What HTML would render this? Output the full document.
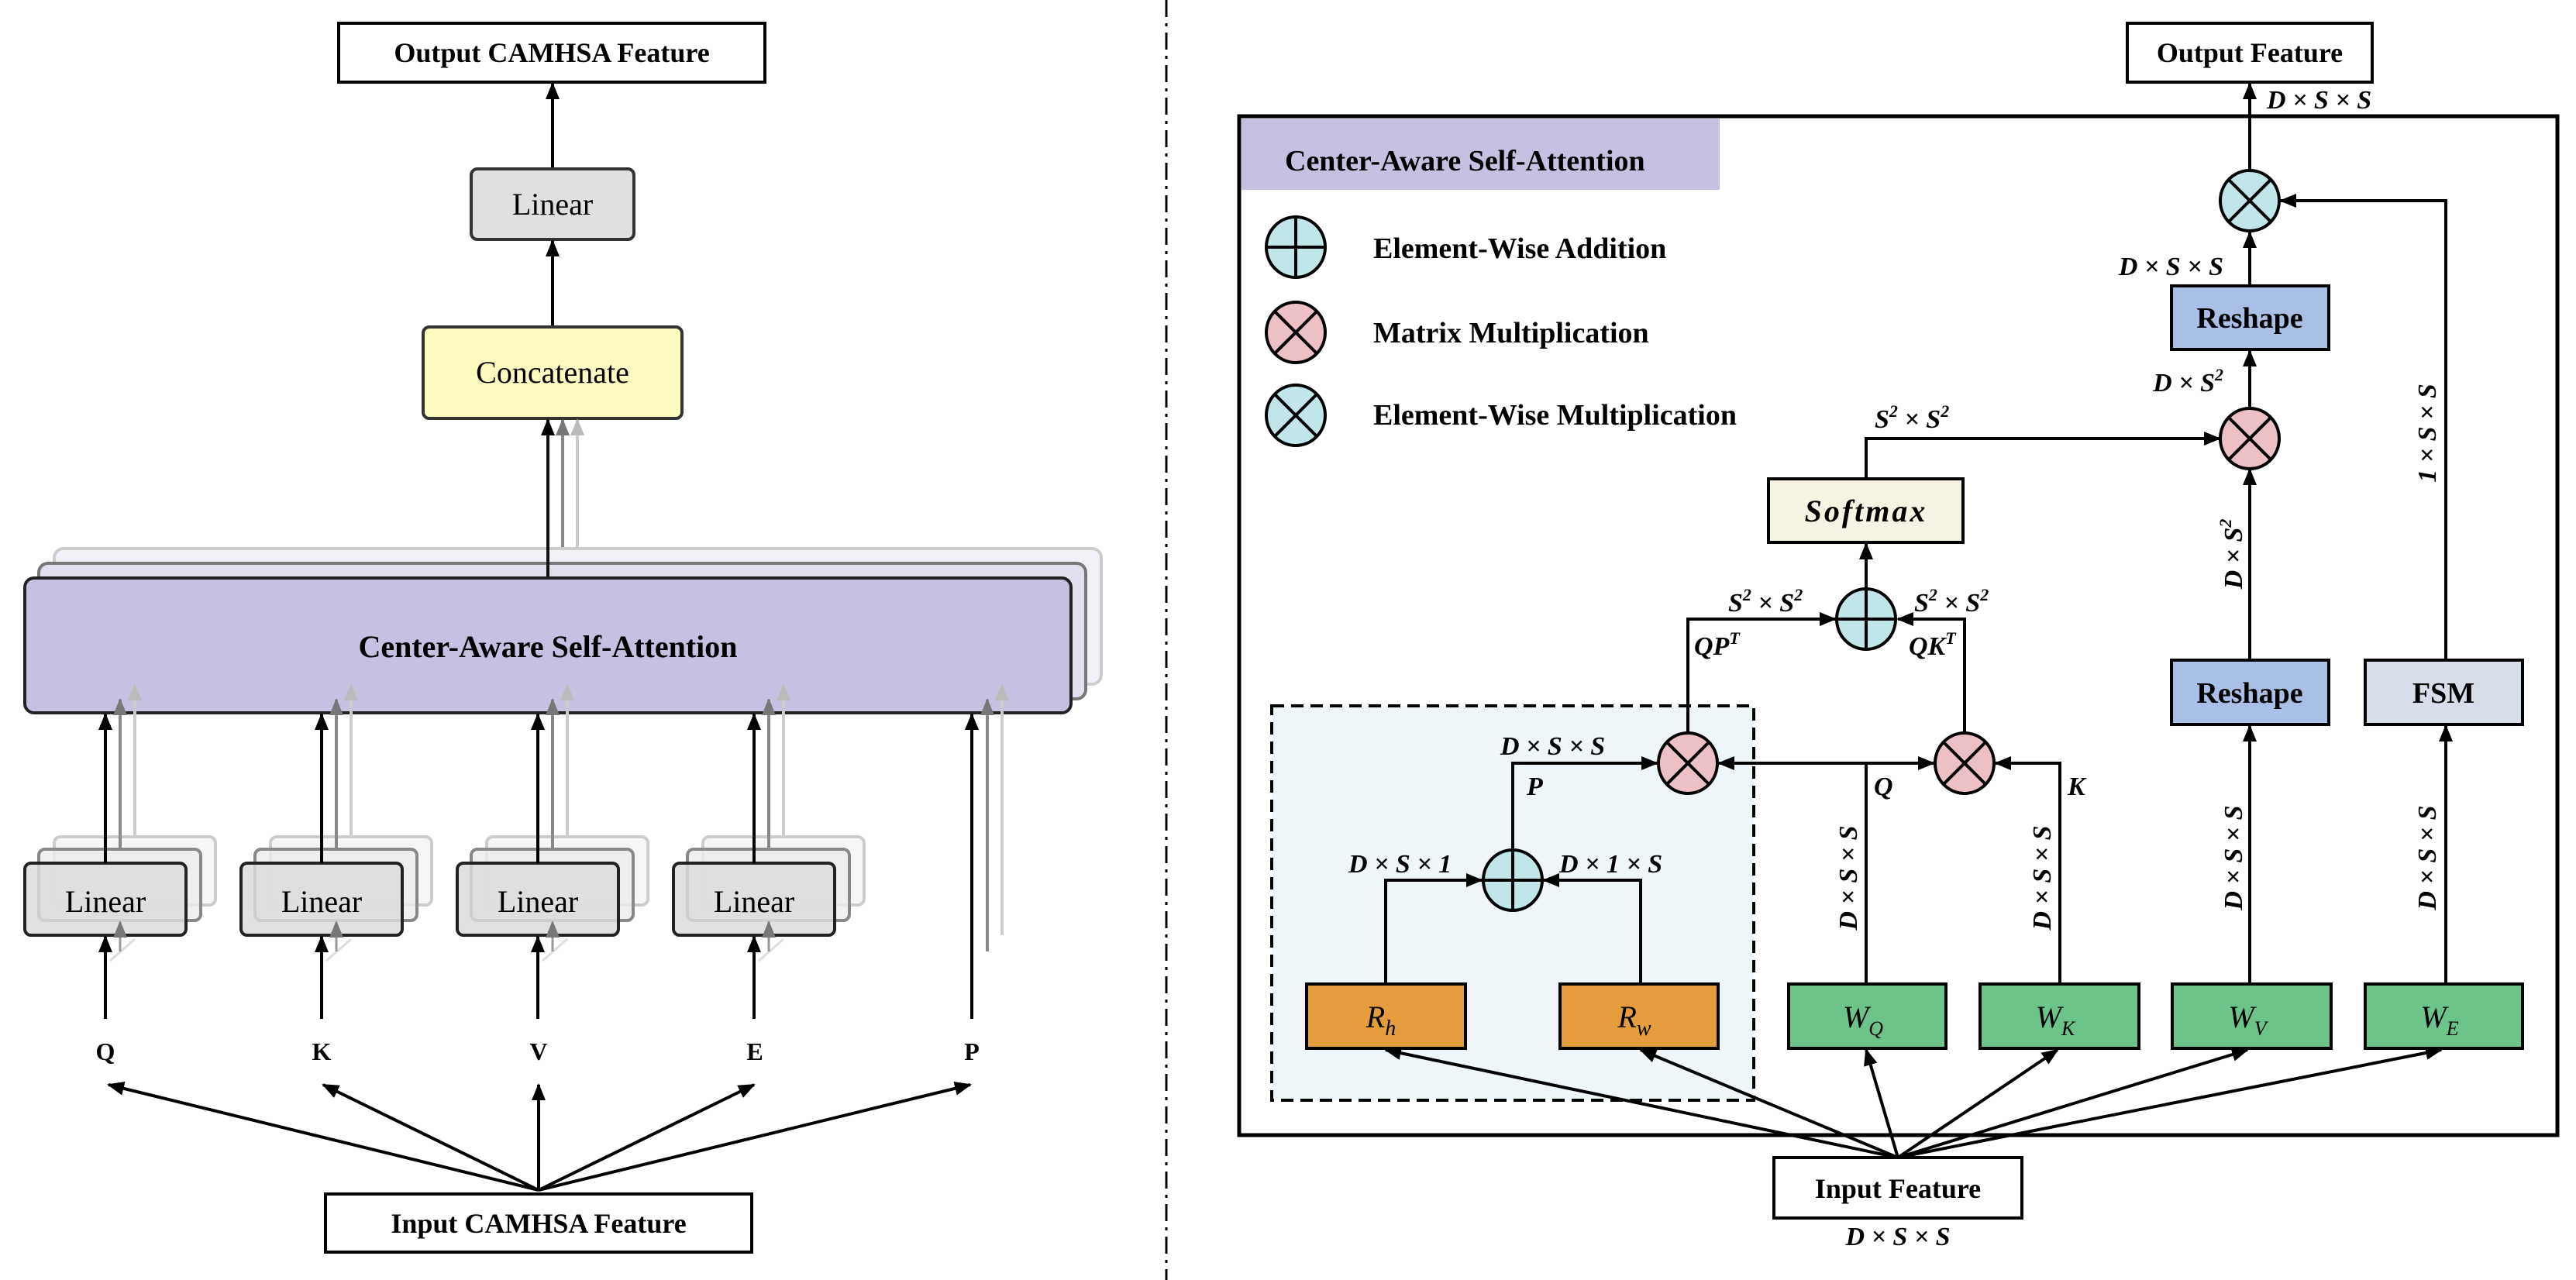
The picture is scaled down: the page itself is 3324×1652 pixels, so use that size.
<!DOCTYPE html>
<html><head><meta charset="utf-8"><style>
html,body{margin:0;padding:0;background:#fff}
svg{display:block}
text{font-family:"Liberation Serif",serif}
.b{font-weight:bold}
.m{font-weight:bold;font-style:italic}
</style></head><body>
<svg width="3324" height="1652" viewBox="0 0 3324 1652" xmlns="http://www.w3.org/2000/svg">
<defs>
<marker id="a" markerUnits="userSpaceOnUse" markerWidth="22" markerHeight="18" refX="20" refY="9" orient="auto"><path d="M0,0 L22,9 L0,18 Z" fill="#000"/></marker>
<marker id="g1" markerUnits="userSpaceOnUse" markerWidth="22" markerHeight="18" refX="20" refY="9" orient="auto"><path d="M0,0 L22,9 L0,18 Z" fill="#777"/></marker>
<marker id="g2" markerUnits="userSpaceOnUse" markerWidth="22" markerHeight="18" refX="20" refY="9" orient="auto"><path d="M0,0 L22,9 L0,18 Z" fill="#bbb"/></marker>
</defs>

<!-- ============ LEFT ============ -->
<rect x="437" y="30" width="550" height="76" fill="#fff" stroke="#000" stroke-width="4"/>
<text x="712" y="80" class="b" font-size="36" text-anchor="middle">Output CAMHSA Feature</text>
<line x1="713" y1="218" x2="713" y2="108" stroke="#000" stroke-width="4" marker-end="url(#a)"/>
<rect x="608" y="218" width="210" height="91" rx="8" fill="#e0e0e0" stroke="#333" stroke-width="4"/>
<text x="713" y="277" font-size="40" text-anchor="middle">Linear</text>
<line x1="713" y1="422" x2="713" y2="311" stroke="#000" stroke-width="4" marker-end="url(#a)"/>
<rect x="546" y="422" width="334" height="118" rx="8" fill="#fdfac0" stroke="#333" stroke-width="4"/>
<text x="713" y="494" font-size="40" text-anchor="middle">Concatenate</text>

<line x1="745" y1="708" x2="745" y2="542" stroke="#ccc" stroke-width="4" marker-end="url(#g2)"/>
<line x1="726" y1="727" x2="726" y2="542" stroke="#888" stroke-width="4" marker-end="url(#g1)"/>

<rect x="70" y="708" width="1351" height="175" rx="12" fill="#f2f1f7" stroke="#ccc" stroke-width="4"/>
<rect x="50" y="727" width="1351" height="175" rx="12" fill="#e2deee" stroke="#777" stroke-width="4"/>
<line x1="707" y1="746" x2="707" y2="542" stroke="#111" stroke-width="4" marker-end="url(#a)"/>
<rect x="32" y="746" width="1350" height="174" rx="12" fill="#c8c0e0" stroke="#222" stroke-width="4"/>
<text x="707" y="848" class="b" font-size="40" text-anchor="middle">Center-Aware Self-Attention</text>

<g id="lin">
<rect x="70" y="1080" width="208" height="88" rx="8" fill="#f6f6f6" stroke="#ccc" stroke-width="4"/>
<rect x="50" y="1096" width="209" height="92" rx="8" fill="#ececec" fill-opacity="0.8" stroke="#888" stroke-width="4"/>
<rect x="32" y="1114" width="208" height="93" rx="8" fill="#dcdcdc" fill-opacity="0.85" stroke="#222" stroke-width="4"/>
<text x="136" y="1177" font-size="40" text-anchor="middle">Linear</text>
<line x1="174" y1="1080" x2="174" y2="884" stroke="#ccc" stroke-width="4" marker-end="url(#g2)"/>
<line x1="155" y1="1096" x2="155" y2="903" stroke="#888" stroke-width="4" marker-end="url(#g1)"/>
<line x1="136" y1="1114" x2="136" y2="922" stroke="#000" stroke-width="4" marker-end="url(#a)"/>
<line x1="136" y1="1315" x2="136" y2="1209" stroke="#000" stroke-width="4" marker-end="url(#a)"/>
<line x1="142" y1="1240" x2="174" y2="1212" stroke="#ddd" stroke-width="3"/>
<line x1="155" y1="1228" x2="155" y2="1190" stroke="#999" stroke-width="3" marker-end="url(#g1)"/>
</g>
<use href="#lin" x="279"/>
<use href="#lin" x="558"/>
<use href="#lin" x="837"/>

<line x1="1293" y1="1207" x2="1293" y2="884" stroke="#ccc" stroke-width="4" marker-end="url(#g2)"/>
<line x1="1274" y1="1228" x2="1274" y2="903" stroke="#888" stroke-width="4" marker-end="url(#g1)"/>
<line x1="1254" y1="1315" x2="1254" y2="922" stroke="#000" stroke-width="4" marker-end="url(#a)"/>

<g class="b" font-size="32" text-anchor="middle">
<text x="136" y="1368">Q</text><text x="415" y="1368">K</text><text x="695" y="1368">V</text><text x="974" y="1368">E</text><text x="1254" y="1368">P</text>
</g>
<g stroke="#000" stroke-width="4" marker-end="url(#a)">
<line x1="695" y1="1536" x2="140" y2="1400"/>
<line x1="695" y1="1536" x2="417" y2="1400"/>
<line x1="695" y1="1536" x2="695" y2="1400"/>
<line x1="695" y1="1536" x2="973" y2="1400"/>
<line x1="695" y1="1536" x2="1252" y2="1400"/>
</g>
<rect x="420" y="1541" width="550" height="75" fill="#fff" stroke="#000" stroke-width="4"/>
<text x="695" y="1591" class="b" font-size="36" text-anchor="middle">Input CAMHSA Feature</text>

<line x1="1505" y1="0" x2="1505" y2="1652" stroke="#000" stroke-width="3" stroke-dasharray="22,8,4,8"/>

<!-- ============ RIGHT ============ -->
<rect x="2745" y="30" width="316" height="76" fill="#fff" stroke="#000" stroke-width="4"/>
<text x="2903" y="80" class="b" font-size="36" text-anchor="middle">Output Feature</text>
<text x="2925" y="140" class="m" font-size="34">D × S × S</text>

<rect x="1599" y="150" width="1701" height="1315" fill="none" stroke="#000" stroke-width="5"/>
<rect x="1602" y="153" width="617" height="92" fill="#c8c0e0"/>
<text x="1658" y="220" class="b" font-size="38">Center-Aware Self-Attention</text>

<g stroke="#000" stroke-width="4">
<ellipse cx="1672" cy="319" rx="38" ry="39" fill="#c1e6ea"/><line x1="1634" y1="319" x2="1710" y2="319"/><line x1="1672" y1="280" x2="1672" y2="358"/>
<ellipse cx="1672" cy="429" rx="38" ry="39" fill="#ecc0c5"/><line x1="1645" y1="402" x2="1699" y2="456"/><line x1="1699" y1="402" x2="1645" y2="456"/>
<ellipse cx="1672" cy="536" rx="38" ry="39" fill="#c1e6ea"/><line x1="1645" y1="509" x2="1699" y2="563"/><line x1="1699" y1="509" x2="1645" y2="563"/>
</g>
<g class="b" font-size="38">
<text x="1772" y="333">Element-Wise Addition</text>
<text x="1772" y="442">Matrix Multiplication</text>
<text x="1772" y="548">Element-Wise Multiplication</text>
</g>

<rect x="1641" y="911" width="622" height="509" fill="#eef6f9" stroke="#000" stroke-width="4" stroke-dasharray="16,9"/>

<g stroke="#000" stroke-width="4" fill="none">
<line x1="2903" y1="221" x2="2903" y2="108" marker-end="url(#a)"/>
<polyline points="3156,852 3156,259 2943,259" marker-end="url(#a)"/>
<line x1="2903" y1="369" x2="2903" y2="300" marker-end="url(#a)"/>
<line x1="2903" y1="527" x2="2903" y2="453" marker-end="url(#a)"/>
<line x1="2903" y1="852" x2="2903" y2="606" marker-end="url(#a)"/>
<polyline points="2408,618 2408,566 2864,566" marker-end="url(#a)"/>
<line x1="2408" y1="760" x2="2408" y2="702" marker-end="url(#a)"/>
<polyline points="2178,946 2178,799 2368,799" marker-end="url(#a)"/>
<polyline points="2535,946 2535,799 2449,799" marker-end="url(#a)"/>
<line x1="2408" y1="985" x2="2218" y2="985" marker-end="url(#a)"/>
<line x1="2408" y1="985" x2="2495" y2="985" marker-end="url(#a)"/>
<line x1="2408" y1="1270" x2="2408" y2="985"/>
<polyline points="2658,1270 2658,985 2575,985" marker-end="url(#a)"/>
<polyline points="1952,1097 1952,985 2138,985" marker-end="url(#a)"/>
<polyline points="1788,1270 1788,1136 1912,1136" marker-end="url(#a)"/>
<polyline points="2117,1270 2117,1136 1992,1136" marker-end="url(#a)"/>
<line x1="2903" y1="1270" x2="2903" y2="937" marker-end="url(#a)"/>
<line x1="3156" y1="1270" x2="3156" y2="937" marker-end="url(#a)"/>
</g>
<g stroke="#000" stroke-width="4" marker-end="url(#a)">
<line x1="2449" y1="1494" x2="1788" y2="1355"/>
<line x1="2449" y1="1494" x2="2117" y2="1355"/>
<line x1="2449" y1="1494" x2="2408" y2="1355"/>
<line x1="2449" y1="1494" x2="2655" y2="1355"/>
<line x1="2449" y1="1494" x2="2900" y2="1355"/>
<line x1="2449" y1="1494" x2="3150" y2="1355"/>
</g>
<rect x="2289" y="1494" width="320" height="78" fill="#fff" stroke="#000" stroke-width="4"/>
<text x="2449" y="1546" class="b" font-size="36" text-anchor="middle">Input Feature</text>

<g stroke="#000" stroke-width="4">
<ellipse cx="2903" cy="259" rx="38" ry="39" fill="#c1e6ea"/><line x1="2876" y1="232" x2="2930" y2="286"/><line x1="2930" y1="232" x2="2876" y2="286"/>
<ellipse cx="2903" cy="566" rx="38" ry="39" fill="#ecc0c5"/><line x1="2876" y1="539" x2="2930" y2="593"/><line x1="2930" y1="539" x2="2876" y2="593"/>
<ellipse cx="2408" cy="799" rx="38" ry="39" fill="#c1e6ea"/><line x1="2370" y1="799" x2="2446" y2="799"/><line x1="2408" y1="760" x2="2408" y2="838"/>
<ellipse cx="2178" cy="985" rx="38" ry="39" fill="#ecc0c5"/><line x1="2151" y1="958" x2="2205" y2="1012"/><line x1="2205" y1="958" x2="2151" y2="1012"/>
<ellipse cx="2535" cy="985" rx="38" ry="39" fill="#ecc0c5"/><line x1="2508" y1="958" x2="2562" y2="1012"/><line x1="2562" y1="958" x2="2508" y2="1012"/>
<ellipse cx="1952" cy="1136" rx="38" ry="39" fill="#c1e6ea"/><line x1="1914" y1="1136" x2="1990" y2="1136"/><line x1="1952" y1="1097" x2="1952" y2="1175"/>
</g>

<g stroke="#000" stroke-width="4">
<rect x="2802" y="369" width="203" height="82" fill="#a9bfe6"/>
<rect x="2282" y="618" width="251" height="82" fill="#f7f3e2"/>
<rect x="2802" y="852" width="203" height="83" fill="#a9bfe6"/>
<rect x="3052" y="852" width="203" height="83" fill="#d7dde9"/>
<rect x="1686" y="1270" width="205" height="83" fill="#e59c3c"/>
<rect x="2013" y="1270" width="204" height="83" fill="#e59c3c"/>
<rect x="2308" y="1270" width="203" height="83" fill="#6cc48b"/>
<rect x="2555" y="1270" width="205" height="83" fill="#6cc48b"/>
<rect x="2803" y="1270" width="205" height="83" fill="#6cc48b"/>
<rect x="3052" y="1270" width="203" height="83" fill="#6cc48b"/>
</g>
<g class="b" font-size="38" text-anchor="middle">
<text x="2903" y="423">Reshape</text>
<text x="2903" y="907">Reshape</text>
<text x="3153" y="907">FSM</text>
</g>
<text x="2408" y="673" class="m" font-size="40" text-anchor="middle" letter-spacing="3">Softmax</text>
<g font-style="italic" font-size="40" text-anchor="middle">
<text x="1782" y="1326">R<tspan font-size="28" dy="10">h</tspan></text>
<text x="2109" y="1326">R<tspan font-size="28" dy="10">w</tspan></text>
<text x="2404" y="1326">W<tspan font-size="26" dy="10">Q</tspan></text>
<text x="2652" y="1326">W<tspan font-size="26" dy="10">K</tspan></text>
<text x="2900" y="1326">W<tspan font-size="26" dy="10">V</tspan></text>
<text x="3148" y="1326">W<tspan font-size="26" dy="10">E</tspan></text>
</g>

<g class="m" font-size="34">
<text x="2869" y="355" text-anchor="end">D × S × S</text>
<text x="2869" y="505" text-anchor="end">D × S<tspan font-size="22" dy="-14">2</tspan></text>
<text x="2419" y="552">S<tspan font-size="22" dy="-14">2</tspan><tspan dy="14"> × S</tspan><tspan font-size="22" dy="-14">2</tspan></text>
<text x="2230" y="789">S<tspan font-size="22" dy="-14">2</tspan><tspan dy="14"> × S</tspan><tspan font-size="22" dy="-14">2</tspan></text>
<text x="2470" y="789">S<tspan font-size="22" dy="-14">2</tspan><tspan dy="14"> × S</tspan><tspan font-size="22" dy="-14">2</tspan></text>
<text x="2186" y="845">QP<tspan font-size="22" dy="-14">T</tspan></text>
<text x="2463" y="845">QK<tspan font-size="22" dy="-14">T</tspan></text>
<text x="1936" y="974">D × S × S</text>
<text x="1970" y="1026">P</text>
<text x="2418" y="1026">Q</text>
<text x="2668" y="1026">K</text>
<text x="1740" y="1126">D × S × 1</text>
<text x="2012" y="1126">D × 1 × S</text>
<text x="2449" y="1607" text-anchor="middle">D × S × S</text>
</g>
<g class="m" font-size="34" text-anchor="middle">
<text transform="translate(2396,1133) rotate(-90)">D × S × S</text>
<text transform="translate(2646,1133) rotate(-90)">D × S × S</text>
<text transform="translate(2893,1107) rotate(-90)">D × S × S</text>
<text transform="translate(3143,1107) rotate(-90)">D × S × S</text>
<text transform="translate(2893,715) rotate(-90)">D × S<tspan font-size="22" dy="-14">2</tspan></text>
<text transform="translate(3143,559) rotate(-90)">1 × S × S</text>
</g>
</svg>
</body></html>
